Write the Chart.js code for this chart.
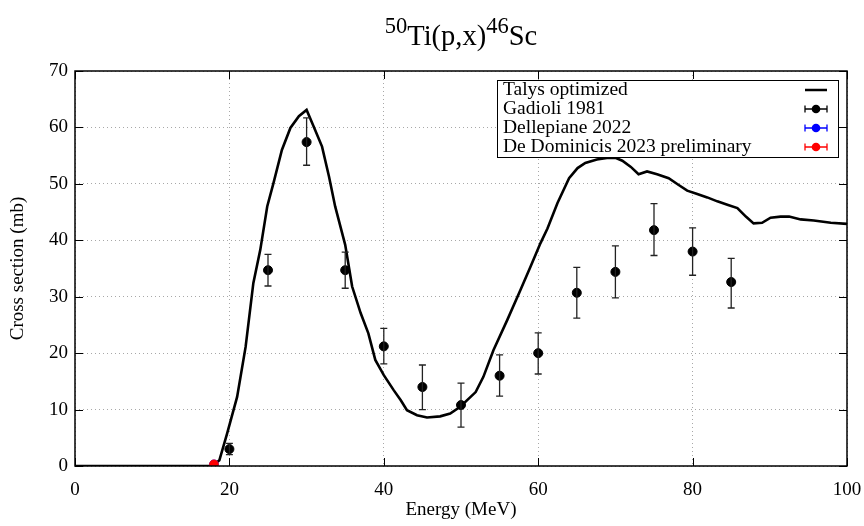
<!DOCTYPE html>
<html>
<head>
<meta charset="utf-8">
<script src="https://cdn.jsdelivr.net/npm/chart.js@4/dist/chart.umd.min.js"></script>
<style>
html,body{margin:0;padding:0;background:#fff;}
#wrap{width:864px;height:526px;position:relative;}
</style>
</head>
<body>
<div id="wrap"><canvas id="c" width="864" height="526"></canvas></div>
<script>
// ---- data ----
const talysE = [0, 17.5, 17.9, 18.7, 19.7, 21.0, 22.1, 23.1, 24.0, 24.9, 25.7, 26.8, 27.9, 29.0, 30.0, 30.9, 32.0, 32.9, 33.7, 35.0, 35.9, 37.0, 38.0, 38.9, 40.0, 41.3, 42.2, 43.0, 44.3, 45.6, 47.3, 48.6, 49.9, 51.9, 52.9, 54.2, 56.0, 57.7, 59.0, 60.3, 61.2, 62.5, 64.0, 65.1, 66.1, 67.6, 68.9, 70.0, 70.9, 72.0, 73.0, 74.1, 75.4, 76.9, 78.2, 79.3, 80.6, 81.9, 83.2, 84.5, 85.8, 86.9, 87.9, 89.0, 90.1, 91.4, 92.5, 94.0, 95.7, 97.9, 100];
const talysXS = [0, 0, 0.1, 1.0, 5.75, 12.25, 21.1, 32.4, 38.3, 46.0, 50.1, 56.0, 59.9, 62.0, 63.1, 60.2, 56.6, 51.3, 46.0, 39.2, 31.8, 27.1, 23.5, 18.8, 16.1, 13.4, 11.65, 9.9, 9.0, 8.6, 8.8, 9.3, 10.5, 13.1, 15.8, 20.5, 25.9, 31.2, 35.3, 39.5, 42.1, 46.6, 51.0, 52.8, 53.7, 54.3, 54.6, 54.6, 54.1, 53.0, 51.7, 52.2, 51.7, 51.0, 49.8, 48.8, 48.2, 47.6, 46.9, 46.3, 45.7, 44.2, 43.0, 43.1, 44.0, 44.2, 44.2, 43.7, 43.5, 43.1, 42.9];

const gadE  = [20, 25, 30, 35, 40, 45, 50, 55, 60, 65, 70, 75, 80, 85];
const gadXS = [3.0, 34.7, 57.4, 34.7, 21.2, 14.0, 10.8, 16.0, 20.0, 30.7, 34.4, 41.8, 38.0, 32.6];
const gadLo = [2.0, 31.9, 53.3, 31.5, 18.1, 10.0, 6.9, 12.4, 16.3, 26.2, 29.8, 37.3, 33.8, 28.0];
const gadHi = [4.0, 37.5, 61.7, 37.9, 24.4, 17.9, 14.7, 19.7, 23.6, 35.2, 39.0, 46.5, 42.2, 36.8];

const dellE = [18.0];
const dellXS = [0.3];
const domE = [18.0];
const domXS = [0.3];

const xTicks = [0, 20, 40, 60, 80, 100];
const yTicks = [0, 10, 20, 30, 40, 50, 60, 70];

const legendLabels = ['Talys optimized', 'Gadioli 1981', 'Dellepiane 2022', 'De Dominicis 2023 preliminary'];
const legendColors = ['#000000', '#000000', '#0000ff', '#ff0000'];

const FONT = '"Liberation Serif", "Times New Roman", serif';

function pts(xs, ys){ return xs.map((x,i)=>({x:x, y:ys[i]})); }

// ---- plugins ----
const errorBars = {
  id: 'errorBars',
  afterDatasetsDraw(chart){
    const ctx = chart.ctx, xs = chart.scales.x, ys = chart.scales.y;
    ctx.save();
    ctx.strokeStyle = '#222';
    ctx.lineWidth = 1.3;
    gadE.forEach((e,i)=>{
      const px = xs.getPixelForValue(e);
      const y1 = ys.getPixelForValue(gadLo[i]);
      const y2 = ys.getPixelForValue(gadHi[i]);
      ctx.beginPath();
      ctx.moveTo(px, y1); ctx.lineTo(px, y2);
      ctx.moveTo(px-3.5, y1); ctx.lineTo(px+3.5, y1);
      ctx.moveTo(px-3.5, y2); ctx.lineTo(px+3.5, y2);
      ctx.stroke();
    });
    ctx.restore();
  }
};

const frame = {
  id: 'frame',
  afterDatasetsDraw(chart){
    const ctx = chart.ctx, a = chart.chartArea, xs = chart.scales.x, ys = chart.scales.y;
    ctx.save();
    ctx.strokeStyle = '#000';
    ctx.lineWidth = 1.5;
    ctx.strokeRect(a.left, a.top, a.right-a.left, a.bottom-a.top);
    ctx.lineWidth = 1;
    const L = 8;
    ctx.beginPath();
    xTicks.forEach(v=>{
      const p = Math.round(xs.getPixelForValue(v))+0.5;
      ctx.moveTo(p, a.bottom); ctx.lineTo(p, a.bottom-L);
      ctx.moveTo(p, a.top); ctx.lineTo(p, a.top+L);
    });
    yTicks.forEach(v=>{
      const p = Math.round(ys.getPixelForValue(v))+0.5;
      ctx.moveTo(a.left, p); ctx.lineTo(a.left+L, p);
      ctx.moveTo(a.right, p); ctx.lineTo(a.right-L, p);
    });
    ctx.stroke();
    ctx.restore();
  }
};

const legendBox = {
  id: 'legendBox',
  afterDraw(chart){
    const ctx = chart.ctx;
    const bx = 497, by = 80, bw = 341, bh = 77;
    ctx.save();
    ctx.fillStyle = '#fff';
    ctx.fillRect(bx, by, bw, bh);
    ctx.strokeStyle = '#000';
    ctx.lineWidth = 1;
    ctx.strokeRect(bx+0.5, by+0.5, bw, bh);
    ctx.font = '19.5px ' + FONT;
    ctx.textBaseline = 'middle';
    ctx.textAlign = 'left';
    legendLabels.forEach((t,i)=>{
      const y = by + 10 + i*19;
      ctx.fillStyle = '#000';
      ctx.fillText(t, bx+6, y);
      const x1 = 805, x2 = 827, xm = 816;
      ctx.strokeStyle = legendColors[i];
      if(i===0){
        ctx.lineWidth = 2.5;
        ctx.beginPath(); ctx.moveTo(x1, y); ctx.lineTo(x2, y); ctx.stroke();
      } else {
        ctx.lineWidth = 1.3;
        ctx.beginPath();
        ctx.moveTo(x1, y); ctx.lineTo(x2, y);
        ctx.moveTo(x1, y-3.5); ctx.lineTo(x1, y+3.5);
        ctx.moveTo(x2, y-3.5); ctx.lineTo(x2, y+3.5);
        ctx.stroke();
        ctx.fillStyle = legendColors[i];
        ctx.beginPath(); ctx.arc(xm, y, 4.3, 0, Math.PI*2); ctx.fill();
      }
    });
    ctx.restore();
  }
};

const titlePlugin = {
  id: 'titlePlugin',
  afterDraw(chart){
    const ctx = chart.ctx;
    const parts = [['50', true], ['Ti(p,x)', false], ['46', true], ['Sc', false]];
    const mainF = '28.5px ' + FONT, supF = '22.5px ' + FONT;
    ctx.save();
    let total = 0;
    parts.forEach(p=>{ ctx.font = p[1]?supF:mainF; total += ctx.measureText(p[0]).width; });
    const a = chart.chartArea;
    let x = (a.left + a.right)/2 - total/2;
    const base = 45;
    ctx.fillStyle = '#000';
    ctx.textBaseline = 'alphabetic';
    parts.forEach(p=>{
      ctx.font = p[1]?supF:mainF;
      ctx.fillText(p[0], x, p[1] ? base-12 : base);
      x += ctx.measureText(p[0]).width;
    });
    ctx.restore();
  }
};

new Chart(document.getElementById('c'), {
  type: 'scatter',
  data: {
    datasets: [
      { label: legendLabels[3], data: pts(domE, domXS), backgroundColor: '#ff0000', borderColor: '#ff0000', pointRadius: 4.3, pointHoverRadius: 4.3, showLine: false, order: 0 },
      { label: legendLabels[2], data: pts(dellE, dellXS), backgroundColor: '#0000ff', borderColor: '#0000ff', pointRadius: 4.3, showLine: false, order: 1 },
      { label: legendLabels[1], data: pts(gadE, gadXS), backgroundColor: '#000', borderColor: '#000', pointRadius: 4.5, showLine: false, order: 2 },
      { label: legendLabels[0], data: pts(talysE, talysXS), showLine: true, borderColor: '#000', borderWidth: 2.6, pointRadius: 0, tension: 0, fill: false, order: 3 }
    ]
  },
  options: {
    responsive: false,
    animation: false,
    events: [],
    layout: { padding: { top: 71, right: 17, left: 0, bottom: 0 } },
    plugins: { legend: { display: false }, tooltip: { enabled: false }, title: { display: false } },
    scales: {
      x: {
        type: 'linear', min: 0, max: 100,
        afterBuildTicks(s){ s.ticks = xTicks.map(v=>({value:v})); },
        afterFit(s){ s.height = 60; s.paddingLeft = 0; s.paddingRight = 0; },
        grid: { color: '#a8a8a8', lineWidth: 1, drawTicks: false },
        border: { display: false, dash: [1, 3] },
        ticks: { color: '#000', font: { family: FONT, size: 19 }, padding: 13, maxRotation: 0 },
        title: { display: true, text: 'Energy (MeV)', color: '#000', font: { family: FONT, size: 19 }, padding: { top: 0, bottom: 5 } }
      },
      y: {
        type: 'linear', min: 0, max: 70,
        afterBuildTicks(s){ s.ticks = yTicks.map(v=>({value:v})); },
        afterFit(s){ s.width = 75; s.paddingTop = 0; s.paddingBottom = 0; },
        grid: { color: '#a8a8a8', lineWidth: 1, drawTicks: false },
        border: { display: false, dash: [1, 3] },
        ticks: { color: '#000', font: { family: FONT, size: 19 }, padding: 7 },
        title: { display: true, text: 'Cross section (mb)', color: '#000', font: { family: FONT, size: 19 }, padding: { top: 7, bottom: 0 } }
      }
    }
  },
  plugins: [errorBars, frame, legendBox, titlePlugin]
});
</script>
</body>
</html>
